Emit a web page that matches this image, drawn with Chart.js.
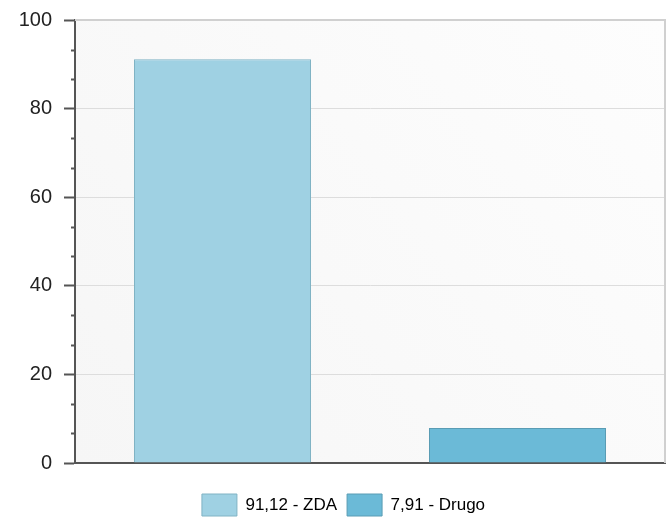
<!DOCTYPE html>
<html>
<head>
<meta charset="utf-8">
<script src="https://cdn.jsdelivr.net/npm/chart.js@4/dist/chart.umd.min.js"></script>
<style>
  html, body { margin: 0; padding: 0; background: #fff; }
  #wrap { width: 668px; height: 517px; }
</style>
</head>
<body>
<div id="wrap"><canvas id="barChart" width="668" height="517"></canvas></div>
<script>
// podatki
var categories = ["ZDA", "Drugo"];
var values = [91.12, 7.91];
var valueLabels = ["91,12", "7,91"];
var yTicks = [0, 20, 40, 60, 80, 100];
var fillColors = ["#9fd1e3", "#6bbad7"];
var borderColors = ["#80b3c4", "#5a9cb4"];

// ozadje risalne povrsine + okvir
var plotBackground = {
  id: "plotBackground",
  beforeDraw: function (chart) {
    var a = chart.chartArea, c = chart.ctx;
    var g = c.createLinearGradient(a.left, a.bottom, a.right, a.top);
    g.addColorStop(0, "#f6f6f6");
    g.addColorStop(1, "#fdfdfd");
    c.save();
    c.fillStyle = g;
    c.fillRect(a.left, a.top, a.right - a.left, a.bottom - a.top);
    c.restore();
  },
  afterDatasetsDraw: function (chart) {
    var a = chart.chartArea, c = chart.ctx;
    c.save();
    c.strokeStyle = "#d0d0d0";
    c.lineWidth = 2;
    c.beginPath();
    c.moveTo(a.left, a.top);
    c.lineTo(a.right, a.top);
    c.lineTo(a.right, a.bottom);
    c.stroke();
    c.restore();
  },
};

// male oznake na osi y (tretjine med glavnimi)
var minorTicks = {
  id: "minorTicks",
  afterDraw: function (chart) {
    var y = chart.scales.y, c = chart.ctx;
    c.save();
    c.strokeStyle = "#555";
    c.lineWidth = 2;
    for (var i = 0; i < yTicks.length - 1; i++) {
      var step = (yTicks[i + 1] - yTicks[i]) / 3;
      for (var k = 1; k < 3; k++) {
        var py = Math.round(y.getPixelForValue(yTicks[i] + step * k)) + 0.5;
        c.beginPath();
        c.moveTo(y.right - 4, py);
        c.lineTo(y.right, py);
        c.stroke();
      }
    }
    c.restore();
  },
};

// legenda malo desno
var legendShift = {
  id: "legendShift",
  afterLayout: function (chart) {
    if (chart.legend) {
      chart.legend.left += 11;
      chart.legend.right += 11;
    }
  },
};

var ctx = document.getElementById("barChart").getContext("2d");
var myBarChart = new Chart(ctx, {
  type: "bar",
  data: {
    labels: categories,
    datasets: [
      {
        data: values,
        backgroundColor: fillColors,
        borderColor: borderColors,
        borderWidth: 1,
        barPercentage: 0.6,
        categoryPercentage: 1,
      },
    ],
  },
  plugins: [plotBackground, minorTicks, legendShift],
  options: {
    responsive: false,
    animation: false,
    layout: { padding: { left: 0, top: 20, right: 3, bottom: -9 } },
    scales: {
      x: {
        ticks: { display: false },
        grid: { display: false },
        border: { display: true, color: "#555", width: 2 },
        afterFit: function (scale) {
          scale.height = scale.height + 13;
        },
      },
      y: {
        min: 0,
        max: 100,
        afterBuildTicks: function (scale) {
          scale.ticks = yTicks.map(function (v) { return { value: v }; });
        },
        afterFit: function (scale) {
          scale.width = 75;
          scale.paddingTop = 0;
          scale.paddingBottom = 0;
        },
        ticks: {
          color: "#222",
          padding: 12,
          font: { family: "Liberation Sans", size: 20 },
        },
        grid: {
          color: "#dddddd",
          lineWidth: 1,
          tickColor: "#555",
          tickLength: 11,
          tickWidth: 2,
        },
        border: { display: true, color: "#555", width: 2 },
      },
    },
    plugins: {
      tooltip: { enabled: false },
      legend: {
        position: "bottom",
        labels: {
          boxWidth: 35,
          boxHeight: 22,
          padding: 10,
          color: "#222",
          font: { family: "Liberation Sans", size: 17 },
          generateLabels: function (chart) {
            return categories.map(function (cat, i) {
              return {
                text: valueLabels[i] + " - " + cat,
                fillStyle: fillColors[i],
                strokeStyle: borderColors[i],
                lineWidth: 1,
                index: i,
              };
            });
          },
        },
      },
    },
  },
});
</script>
</body>
</html>
